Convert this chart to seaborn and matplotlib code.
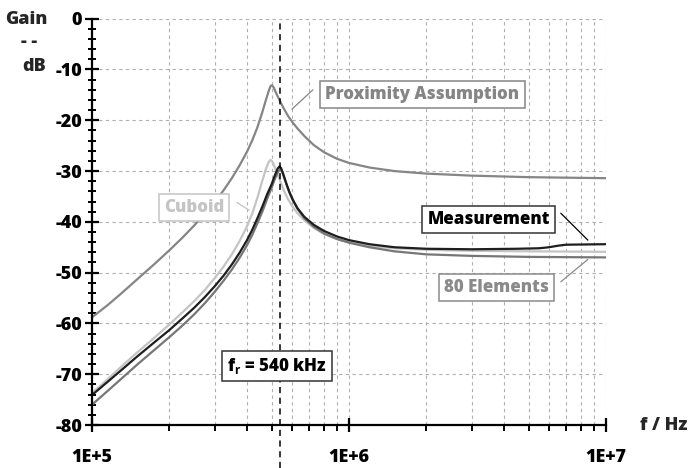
import matplotlib
matplotlib.use("Agg")
import matplotlib.pyplot as plt
import matplotlib.ticker as mticker
import pandas as pd
import seaborn as sns

# values (frequency in Hz, gain in dB)
prox_f = [1.0e5, 1.15e5, 1.3e5, 1.5e5, 1.75e5, 2.0e5, 2.25e5, 2.5e5, 2.75e5, 3.0e5,
          3.25e5, 3.5e5, 3.75e5, 4.0e5, 4.2e5, 4.4e5, 4.6e5, 4.75e5, 4.88e5, 4.96e5,
          5.02e5, 5.1e5, 5.2e5, 5.35e5, 5.55e5, 5.8e5, 6.05e5, 6.3e5, 6.7e5, 7.3e5,
          8.0e5, 9.0e5, 1.0e6, 1.2e6, 1.5e6, 2.0e6, 3.0e6, 5.0e6, 7.0e6, 1.0e7]
prox_gain = [-58.8, -56.4, -54.1, -51.3, -48.3, -45.6, -43.1, -40.7, -38.4, -36.1,
             -33.8, -31.4, -28.9, -26.3, -24.0, -21.4, -18.4, -16.0, -14.1, -13.2,
             -13.1, -13.6, -14.6, -15.9, -17.5, -19.2, -20.5, -21.6, -23.1, -24.9,
             -26.3, -27.6, -28.4, -29.3, -30.0, -30.5, -30.9, -31.2, -31.3, -31.4]

cub_f = [1.0e5, 1.15e5, 1.3e5, 1.5e5, 1.75e5, 2.0e5, 2.25e5, 2.5e5, 2.75e5, 3.0e5,
         3.25e5, 3.5e5, 3.75e5, 4.0e5, 4.2e5, 4.4e5, 4.6e5, 4.75e5, 4.87e5, 4.95e5,
         5.03e5, 5.12e5, 5.25e5, 5.4e5, 5.6e5, 5.8e5, 6.05e5, 6.3e5, 6.7e5, 7.3e5,
         8.0e5, 9.0e5, 1.0e6, 1.2e6, 1.5e6, 2.0e6, 3.0e6, 5.0e6, 1.0e7]
cub_gain = [-73.7, -71.0, -68.5, -65.7, -62.8, -60.2, -57.8, -55.6, -53.4, -51.1,
            -48.8, -46.4, -43.8, -41.0, -38.4, -35.3, -31.9, -29.6, -28.2, -27.8,
            -28.1, -29.0, -30.4, -32.0, -34.0, -35.6, -37.1, -38.3, -39.7, -41.2,
            -42.4, -43.4, -44.0, -44.7, -45.2, -45.5, -45.7, -45.8, -45.9]

meas_f = [1.0e5, 1.15e5, 1.3e5, 1.5e5, 1.75e5, 2.0e5, 2.25e5, 2.5e5, 2.75e5, 3.0e5,
          3.25e5, 3.5e5, 3.75e5, 4.0e5, 4.2e5, 4.4e5, 4.6e5, 4.8e5, 5.0e5, 5.15e5,
          5.28e5, 5.36e5, 5.44e5, 5.55e5, 5.7e5, 5.85e5, 6.05e5, 6.3e5, 6.7e5, 7.3e5,
          8.0e5, 9.0e5, 1.0e6, 1.2e6, 1.5e6, 2.0e6, 3.0e6, 4.5e6, 5.5e6, 6.0e6,
          6.5e6, 7.0e6, 1.0e7]
meas_gain = [-74.1, -71.5, -69.2, -66.5, -63.7, -61.3, -59.0, -56.9, -54.8, -52.7,
             -50.6, -48.4, -46.1, -43.7, -41.6, -39.3, -37.0, -34.6, -32.6, -30.8,
             -29.5, -29.1, -29.4, -30.6, -32.4, -34.0, -35.7, -37.3, -39.0, -40.6,
             -41.8, -42.9, -43.6, -44.4, -45.0, -45.3, -45.4, -45.3, -45.2, -45.0,
             -44.7, -44.5, -44.4]

elem_f = [1.0e5, 1.15e5, 1.3e5, 1.5e5, 1.75e5, 2.0e5, 2.25e5, 2.5e5, 2.75e5, 3.0e5,
          3.25e5, 3.5e5, 3.75e5, 4.0e5, 4.2e5, 4.4e5, 4.6e5, 4.8e5, 5.0e5, 5.15e5,
          5.3e5, 5.4e5, 5.48e5, 5.6e5, 5.75e5, 5.9e5, 6.1e5, 6.3e5, 6.7e5, 7.3e5,
          8.0e5, 9.0e5, 1.0e6, 1.2e6, 1.5e6, 2.0e6, 3.0e6, 5.0e6, 1.0e7]
elem_gain = [-76.0, -73.3, -70.9, -68.1, -65.2, -62.7, -60.4, -58.2, -56.0, -53.8,
             -51.6, -49.4, -47.1, -44.7, -42.6, -40.3, -38.0, -35.5, -33.3, -31.5,
             -30.1, -29.7, -30.0, -31.4, -33.1, -34.6, -36.1, -37.4, -39.3, -41.0,
             -42.3, -43.4, -44.1, -45.0, -45.8, -46.4, -46.7, -46.9, -47.0]

f_res = 540e3
xtick_values = [1e5, 1e6, 1e7]
xtick_labels = ["1E+5", "1E+6", "1E+7"]
ytick_values = [0, -10, -20, -30, -40, -50, -60, -70, -80]
ytick_labels = ["0", "-10", "-20", "-30", "-40", "-50", "-60", "-70", "-80"]

C_PROX = "#858585"
C_CUB = "#c4c4c4"
C_MEAS = "#1e1e1e"
C_ELEM = "#767676"
C_ELEM_TXT = "#8a8a8a"
FS = 13
WEIGHT = 800


def main() -> None:
    sns.set_style("white")
    plt.rcParams["font.family"] = ["Open Sans", "DejaVu Sans"]
    plt.rcParams["mathtext.fontset"] = "custom"
    plt.rcParams["mathtext.rm"] = "Open Sans:bold"
    plt.rcParams["mathtext.default"] = "rm"

    fig = plt.figure(figsize=(6.89, 4.68), dpi=100)
    ax = fig.add_axes([92 / 689, 1 - 425 / 468, 514 / 689, 406.3 / 468])

    series = [
        (prox_f, prox_gain, C_PROX),
        (cub_f, cub_gain, C_CUB),
        (elem_f, elem_gain, C_ELEM),
        (meas_f, meas_gain, C_MEAS),
    ]
    for freq, gain, colour in series:
        data = pd.DataFrame({"f": freq, "gain": gain})
        sns.lineplot(data=data, x="f", y="gain", color=colour, linewidth=1.6, ax=ax)

    ax.set_xscale("log")
    ax.set_xlim(1e5, 1e7)
    ax.set_ylim(-80, 0)
    ax.set_xlabel("")
    ax.set_ylabel("")

    ax.xaxis.set_major_locator(mticker.FixedLocator(xtick_values))
    ax.xaxis.set_major_formatter(mticker.FixedFormatter(xtick_labels))
    ax.xaxis.set_minor_locator(mticker.LogLocator(base=10, subs=range(2, 10)))
    ax.xaxis.set_minor_formatter(mticker.NullFormatter())
    ax.yaxis.set_major_locator(mticker.FixedLocator(ytick_values))
    ax.yaxis.set_major_formatter(mticker.FixedFormatter(ytick_labels))
    ax.yaxis.set_minor_locator(mticker.MultipleLocator(2))

    grid_kw = dict(color="#b0b0b0", linestyle=(0, (3, 3)), linewidth=0.8)
    ax.grid(True, which="both", axis="x", **grid_kw)
    ax.grid(True, which="major", axis="y", **grid_kw)
    ax.set_axisbelow(True)

    for side in ["top", "right"]:
        ax.spines[side].set_visible(False)
    for side in ["left", "bottom"]:
        ax.spines[side].set_color("black")
        ax.spines[side].set_linewidth(1.6)

    ax.tick_params(axis="y", which="both", left=True, right=False)
    ax.tick_params(axis="x", which="both", bottom=True, top=False)
    ax.tick_params(axis="y", which="major", direction="inout", length=10, width=1.6,
                   pad=2, labelsize=FS, colors="black")
    ax.tick_params(axis="y", which="minor", direction="inout", length=6, width=1.4,
                   colors="black")
    ax.tick_params(axis="x", which="major", direction="inout", length=10, width=1.6,
                   pad=12, labelsize=FS, colors="black")
    ax.tick_params(axis="x", which="minor", direction="out", length=4, width=1.4,
                   colors="black")
    for label in ax.get_xticklabels() + ax.get_yticklabels():
        label.set_fontweight(WEIGHT)

    ax.axvline(f_res, ymin=-0.107, ymax=1, color="black", linewidth=1.1,
               linestyle=(0, (4, 3)), clip_on=False, zorder=5)

    # axis titles
    fig.text(5 / 689, 1 - 19 / 468, "Gain", fontsize=FS, fontweight=WEIGHT,
             ha="left", va="center")
    fig.text(29 / 689, 1 - 42 / 468, "- -", fontsize=FS, fontweight=WEIGHT,
             ha="center", va="center")
    fig.text(34 / 689, 1 - 67 / 468, "dB", fontsize=FS, fontweight=WEIGHT,
             ha="center", va="center")
    ax.text(1.066, 0, "f / Hz", transform=ax.transAxes, fontsize=FS,
            fontweight=WEIGHT, ha="left", va="center")

    # labels with leader lines
    def label(text, xy, colour, edge, leader=None):
        ax.text(xy[0], xy[1], text, color=colour, fontsize=12.2, fontweight=WEIGHT,
                ha="center", va="center", zorder=6,
                bbox=dict(boxstyle="square,pad=0.3", facecolor="white",
                          edgecolor=edge, linewidth=1.1))
        if leader is not None:
            ax.plot(leader[0], leader[1], color=colour, linewidth=0.9, zorder=6)

    label("Proximity Assumption", (1.93e6, -15.0), C_PROX, C_PROX,
          ([6.0e5, 7.24e5], [-17.8, -14.0]))
    label("Cuboid", (2.49e5, -37.2), C_CUB, C_CUB,
          ([3.66e5, 4.09e5], [-36.2, -37.7]))
    label("Measurement", (3.5e6, -39.6), "black", "#333333",
          ([6.67e6, 8.5e6], [-38.3, -43.6]))
    label("80 Elements", (3.76e6, -53.0), C_ELEM_TXT, C_ELEM_TXT,
          ([6.67e6, 8.5e6], [-51.8, -47.4]))
    label(r"f$_{r}$ = 540 kHz", (5.25e5, -68.4), "black", "#333333")

    fig.savefig("out.png", dpi=100)
    plt.close(fig)


if __name__ == "__main__":
    main()
